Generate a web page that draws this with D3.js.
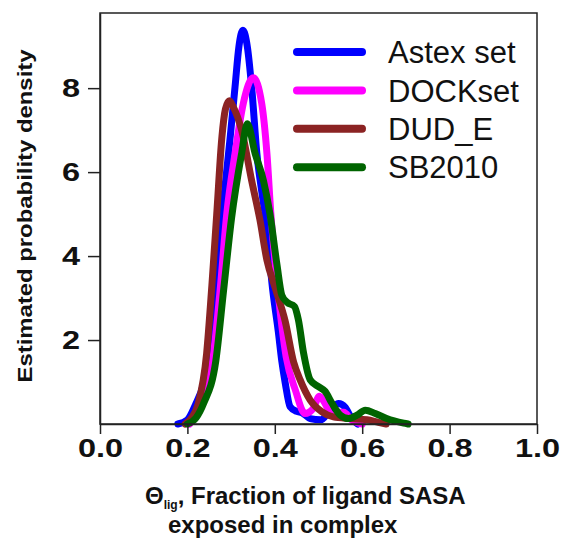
<!DOCTYPE html>
<html><head><meta charset="utf-8">
<script src="https://cdn.jsdelivr.net/npm/d3@7"></script>
<style>body{margin:0;background:#fff}</style>
</head><body>
<svg id="c" width="563" height="538"></svg>
<script>
const seriesNames = ["Astex set", "DOCKset", "DUD_E", "SB2010"];
const seriesColors = ["#0000ff", "#ff00ff", "#8b2323", "#006400"];
const xTicks = [0, 0.2, 0.4, 0.6, 0.8, 1.0];
const yTicks = [2, 4, 6, 8];

const astexSet = [[0.178,0],[0.20,0.1],[0.218,0.45],[0.237,0.95],[0.252,1.68],[0.266,3.2],[0.28,5.0],[0.298,6.84],[0.309,8.03],[0.318,9.0],[0.327,9.38],[0.337,9.0],[0.347,8.03],[0.359,6.44],[0.372,5.4],[0.383,4.6],[0.393,3.4],[0.408,2.2],[0.416,1.5],[0.424,0.97],[0.435,0.41],[0.45,0.3],[0.462,0.27],[0.481,0.13],[0.505,0.1],[0.527,0.33],[0.546,0.49],[0.561,0.4],[0.576,0.13],[0.59,0]];
const dockSet = [[0.205,0],[0.22,0.2],[0.233,0.49],[0.26,1.68],[0.275,3.2],[0.29,5.0],[0.309,6.44],[0.328,7.64],[0.351,8.25],[0.37,7.64],[0.382,6.44],[0.391,5.0],[0.405,3.39],[0.426,1.6],[0.447,0.81],[0.469,0.25],[0.488,0.37],[0.502,0.66],[0.515,0.49],[0.531,0.2],[0.545,0.28],[0.558,0.28],[0.575,0.1],[0.6,0]];
const dudE = [[0.195,0],[0.21,0.15],[0.225,0.49],[0.244,1.68],[0.256,3.3],[0.267,4.98],[0.279,6.84],[0.287,7.5],[0.296,7.7],[0.305,7.55],[0.324,7.0],[0.347,5.8],[0.366,4.86],[0.382,3.9],[0.401,3.24],[0.424,2.44],[0.443,1.48],[0.458,1.05],[0.481,0.57],[0.508,0.29],[0.534,0.17],[0.572,0.13],[0.611,0.1],[0.637,0.04],[0.655,0]];
const sb2010 = [[0.2,0],[0.22,0.15],[0.237,0.49],[0.265,1.5],[0.283,3.2],[0.301,4.9],[0.324,6.44],[0.337,7.15],[0.355,6.44],[0.374,5.8],[0.389,5.0],[0.405,3.79],[0.416,3.07],[0.428,2.9],[0.445,2.8],[0.454,2.48],[0.466,1.68],[0.481,1.05],[0.5,0.89],[0.515,0.78],[0.531,0.49],[0.55,0.21],[0.569,0.13],[0.588,0.21],[0.607,0.33],[0.63,0.25],[0.656,0.13],[0.695,0.02],[0.705,0]];
const seriesData = [astexSet, dockSet, dudE, sb2010];

const svg = d3.select("#c");
const L = 100, R = 537, T = 13, B = 424;
const x = d3.scaleLinear().domain([0, 1]).range([L, R]);
const y = d3.scaleLinear().domain([0, 9.79]).range([B, T]);

// curves
const line = d3.line().x(d => x(d[0])).y(d => y(d[1])).curve(d3.curveMonotoneX);
seriesData.forEach((s, i) => {
  svg.append("path").attr("d", line(s)).attr("fill", "none")
    .attr("stroke", seriesColors[i]).attr("stroke-width", 7)
    .attr("stroke-linejoin", "round").attr("stroke-linecap", "round");
});

// frame
svg.append("rect").attr("x", L).attr("y", T).attr("width", R - L).attr("height", B - T)
  .attr("fill", "none").attr("stroke", "#222").attr("stroke-width", 1.5);

// x axis
const gx = svg.append("g").attr("transform", `translate(0,${B})`)
  .call(d3.axisBottom(x).tickValues(xTicks).tickFormat(d3.format(".1f")).tickSize(10).tickSizeOuter(0));
gx.select(".domain").attr("stroke", "#222").attr("stroke-width", 1.5);
gx.selectAll(".tick line").attr("stroke", "#222").attr("stroke-width", 1.5);
gx.selectAll(".tick text").attr("font-family", "Liberation Sans, Arial, sans-serif")
  .attr("font-size", 25).attr("font-weight", "bold").attr("fill", "#111")
  .attr("y", 15).attr("transform", "scale(1.3,1)");

// y axis
const gy = svg.append("g").attr("transform", `translate(${L},0)`)
  .call(d3.axisLeft(y).tickValues(yTicks).tickFormat(d3.format("d")).tickSize(12).tickSizeOuter(0));
gy.select(".domain").attr("stroke", "#222").attr("stroke-width", 1.5);
gy.selectAll(".tick line").attr("stroke", "#222").attr("stroke-width", 1.5);
gy.selectAll(".tick text").attr("font-family", "Liberation Sans, Arial, sans-serif")
  .attr("font-size", 25).attr("font-weight", "bold").attr("fill", "#111")
  .attr("x", -20 / 1.3).attr("transform", "scale(1.3,1)");

// y title
svg.append("text").attr("transform", "translate(32,216) rotate(-90)")
  .attr("text-anchor", "middle").attr("font-family", "Liberation Sans, Arial, sans-serif")
  .attr("font-size", 20).attr("font-weight", "bold").attr("fill", "#111")
  .attr("textLength", 333).attr("lengthAdjust", "spacingAndGlyphs")
  .text("Estimated probability density");

// x title
const xt = svg.append("text").attr("x", 145).attr("y", 504)
  .attr("font-family", "Liberation Sans, Arial, sans-serif").attr("font-weight", "bold")
  .attr("font-size", 24).attr("fill", "#111");
xt.append("tspan").text("Θ");
xt.append("tspan").attr("font-size", 12).attr("dy", 5).text("lig");
xt.append("tspan").attr("dy", -5).text(", Fraction of ligand SASA");
svg.append("text").attr("x", 168).attr("y", 533)
  .attr("font-family", "Liberation Sans, Arial, sans-serif").attr("font-weight", "bold")
  .attr("font-size", 24).attr("fill", "#111").text("exposed in complex");

// legend
seriesNames.forEach((n, i) => {
  const ly = 52 + i * 38.4;
  svg.append("line").attr("x1", 297).attr("x2", 362).attr("y1", ly).attr("y2", ly)
    .attr("stroke", seriesColors[i]).attr("stroke-width", 8).attr("stroke-linecap", "round");
  svg.append("text").attr("x", 388).attr("y", ly).attr("dy", "0.36em")
    .attr("font-family", "Liberation Sans, Arial, sans-serif").attr("font-size", 31)
    .attr("fill", "#111").text(n);
});
</script>
</body></html>
